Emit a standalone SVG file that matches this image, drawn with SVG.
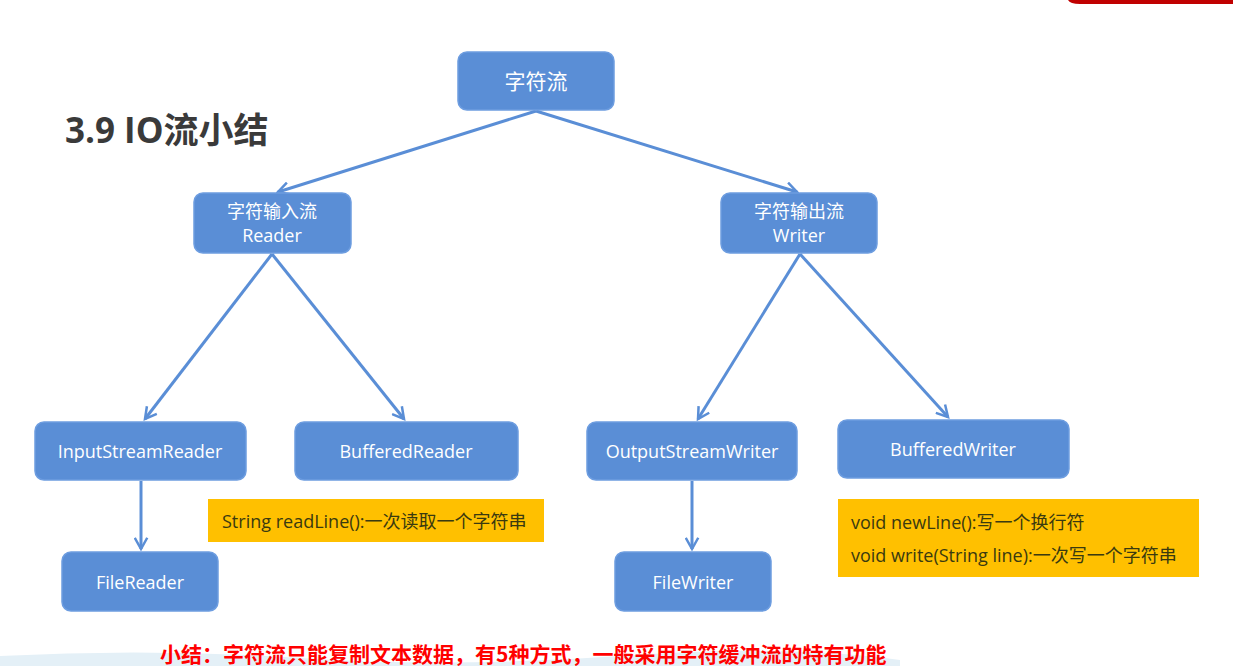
<svg xmlns="http://www.w3.org/2000/svg" width="1233" height="666" viewBox="0 0 1233 666">
<defs>
<style>
.node rect{fill:#5a8ed6;stroke:#6d9de0;stroke-width:1.5}
.node text{fill:#ffffff;font-family:"Open Sans","Noto Sans","Noto Sans CJK SC",sans-serif;font-size:18px;text-anchor:middle}
.note rect{fill:#ffc000}
.note text{fill:#3a3a10;font-family:"Open Sans","Noto Sans","Noto Sans CJK SC",sans-serif;font-size:18px}
.conn path{fill:none;stroke:#5a8ed6;stroke-width:3}
</style>
<marker id="arr" viewBox="0 0 12 12" refX="10" refY="6" markerWidth="5" markerHeight="5" orient="auto" markerUnits="strokeWidth">
<path d="M1,1 L10,6 L1,11" fill="none" stroke="#5a8ed6" stroke-width="2"/>
</marker>
</defs>
<rect x="0" y="0" width="1233" height="666" fill="#ffffff"/>
<path d="M1068,0 L1233,0 L1233,4 L1080,4 Q1070,4 1068,0 Z" fill="#c00000"/>
<path d="M0,656 Q150,648 300,658 T620,656 T900,660 L900,666 L0,666 Z" fill="#e4f0f7"/>
<text x="65" y="143" font-family="'Open Sans','Noto Sans','Noto Sans CJK SC',sans-serif" font-size="35" font-weight="bold" fill="#3a3a3a">3.9 IO流小结</text>
<g class="conn">
<path d="M536,111 L278,192" marker-end="url(#arr)"/>
<path d="M536,111 L797,192" marker-end="url(#arr)"/>
<path d="M272,254 L145,419" marker-end="url(#arr)"/>
<path d="M272,254 L404,419" marker-end="url(#arr)"/>
<path d="M800,254 L698,419" marker-end="url(#arr)"/>
<path d="M800,254 L948,417" marker-end="url(#arr)"/>
<path d="M141,481 L141,549" marker-end="url(#arr)"/>
<path d="M692,481 L692,549" marker-end="url(#arr)"/>
</g>
<g id="root" class="node"><rect x="458" y="52" width="156" height="58" rx="9"/><text x="536" y="89" style="font-size:21px">字符流</text></g>
<g id="reader" class="node"><rect x="194" y="193" width="157" height="60" rx="9"/><text x="272" y="218">字符输入流</text><text x="272" y="242">Reader</text></g>
<g id="writer" class="node"><rect x="721" y="193" width="156" height="60" rx="9"/><text x="799" y="218">字符输出流</text><text x="799" y="242">Writer</text></g>
<g id="isr" class="node"><rect x="35" y="422" width="211" height="58" rx="9"/><text x="140" y="458">InputStreamReader</text></g>
<g id="br" class="node"><rect x="295" y="422" width="223" height="58" rx="9"/><text x="406" y="458">BufferedReader</text></g>
<g id="osw" class="node"><rect x="587" y="422" width="210" height="58" rx="9"/><text x="692" y="458">OutputStreamWriter</text></g>
<g id="bw" class="node"><rect x="838" y="420" width="231" height="58" rx="9"/><text x="953" y="456">BufferedWriter</text></g>
<g id="fr" class="node"><rect x="62" y="552" width="156" height="59" rx="9"/><text x="140" y="589">FileReader</text></g>
<g id="fw" class="node"><rect x="615" y="552" width="156" height="59" rx="9"/><text x="693" y="589">FileWriter</text></g>
<g id="note1" class="note"><rect x="208" y="499" width="336" height="43"/><text x="222" y="528">String readLine():一次读取一个字符串</text></g>
<g id="note2" class="note"><rect x="838" y="499" width="361" height="78"/><text x="851" y="529">void newLine():写一个换行符</text><text x="851" y="562">void write(String line):一次写一个字符串</text></g>
<text x="160" y="662" font-family="'Noto Sans CJK SC',sans-serif" font-size="21" font-weight="bold" fill="#ff0000">小结：字符流只能复制文本数据，有5种方式，一般采用字符缓冲流的特有功能</text>
</svg>
